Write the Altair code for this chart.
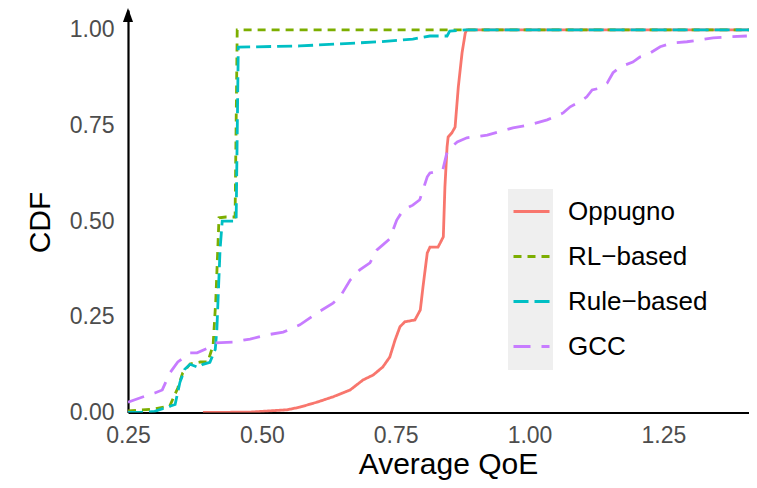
import altair as alt
import pandas as pd

# ---- data ----
series_names = ["Oppugno", "RL\u2212based", "Rule\u2212based", "GCC"]
series_colors = ["#F8766D", "#7CAE00", "#00BFC4", "#C77CFF"]
series_dashes = [[1, 0], [8, 6], [15, 6], [17, 11]]

opp_x = [0.390, 0.478, 0.547, 0.571, 0.603, 0.633, 0.665, 0.689, 0.708, 0.726, 0.739, 0.749, 0.758,
         0.767, 0.786, 0.796, 0.801, 0.809, 0.814, 0.829, 0.839, 0.842, 0.846, 0.848, 0.855, 0.861,
         0.867, 0.874, 0.880, 0.883, 1.43]
opp_y = [0.000, 0.001, 0.007, 0.014, 0.027, 0.041, 0.059, 0.085, 0.098, 0.119, 0.145, 0.190, 0.224,
         0.237, 0.242, 0.268, 0.328, 0.417, 0.432, 0.432, 0.459, 0.590, 0.694, 0.720, 0.731, 0.746,
         0.851, 0.940, 0.992, 1.000, 1.000]

rl_x = [0.250, 0.297, 0.328, 0.343, 0.352, 0.366, 0.385, 0.399, 0.409, 0.414, 0.420, 0.433, 0.450,
        0.454, 1.43]
rl_y = [0.004, 0.009, 0.017, 0.064, 0.103, 0.127, 0.132, 0.132, 0.176, 0.294, 0.509, 0.511, 0.511,
        1.000, 1.000]

rule_x = [0.250, 0.272, 0.300, 0.338, 0.347, 0.356, 0.366, 0.381, 0.390, 0.403, 0.413, 0.416, 0.422,
          0.426, 0.435, 0.452, 0.456, 0.571, 0.721, 0.782, 0.814, 0.846, 0.851, 0.880, 1.43]
rule_y = [0.000, 0.000, 0.003, 0.021, 0.079, 0.113, 0.126, 0.118, 0.126, 0.131, 0.165, 0.217, 0.427,
          0.500, 0.500, 0.500, 0.955, 0.958, 0.969, 0.976, 0.984, 0.984, 0.997, 1.000, 1.000]

gcc_x = [0.250, 0.272, 0.300, 0.314, 0.328, 0.343, 0.366, 0.379, 0.403, 0.413, 0.446, 0.478, 0.510,
         0.540, 0.571, 0.603, 0.633, 0.646, 0.665, 0.683, 0.702, 0.715, 0.726, 0.739, 0.752, 0.764,
         0.782, 0.795, 0.809, 0.814, 0.838, 0.846, 0.852, 0.865, 0.883, 0.921, 0.969, 1.001, 1.033,
         1.063, 1.076, 1.094, 1.107, 1.117, 1.132, 1.145, 1.156, 1.169, 1.193, 1.206, 1.220, 1.244,
         1.268, 1.294, 1.343, 1.375, 1.406]
gcc_y = [0.027, 0.038, 0.051, 0.059, 0.103, 0.132, 0.156, 0.156, 0.171, 0.182, 0.184, 0.192, 0.203,
         0.210, 0.229, 0.260, 0.286, 0.302, 0.346, 0.373, 0.391, 0.425, 0.438, 0.454, 0.503, 0.529,
         0.542, 0.556, 0.616, 0.626, 0.634, 0.681, 0.691, 0.707, 0.718, 0.725, 0.744, 0.752, 0.765,
         0.783, 0.799, 0.812, 0.825, 0.843, 0.848, 0.861, 0.888, 0.903, 0.916, 0.929, 0.935, 0.956,
         0.966, 0.969, 0.979, 0.982, 0.984]

x_ticks = [0.25, 0.50, 0.75, 1.00, 1.25]
y_ticks = [0.00, 0.25, 0.50, 0.75, 1.00]

frames = []
for name, xs, ys in zip(series_names, [opp_x, rl_x, rule_x, gcc_x], [opp_y, rl_y, rule_y, gcc_y]):
    frames.append(pd.DataFrame({"qoe": xs, "cdf": ys, "series": name, "idx": range(len(xs))}))
df = pd.concat(frames, ignore_index=True)

FONT = "Liberation Sans"
W, H = 621, 402.5

legend_kw = dict(title=None, orient="none", legendX=384, legendY=182,
                 symbolType="stroke", symbolSize=1296, symbolStrokeWidth=3,
                 labelFontSize=26, labelFont=FONT, labelColor="black",
                 labelOffset=17, rowPadding=12, padding=0)

lines = alt.Chart(df).mark_line(strokeWidth=2.8, clip=True).encode(
    x=alt.X("qoe:Q", scale=alt.Scale(domain=[0.25, 1.41], nice=False, zero=False),
            axis=alt.Axis(values=x_ticks, format=".2f", title="Average QoE",
                          titleX=320, titleY=52, titleBaseline="middle",
                          labelPadding=23, labelBaseline="middle", labelFlush=False)),
    y=alt.Y("cdf:Q", scale=alt.Scale(domain=[0, 1.052], nice=False),
            axis=alt.Axis(values=y_ticks, format=".2f", title="CDF",
                          titleX=-88, titleY=212, titleBaseline="middle", titleAngle=270,
                          labelPadding=14, labelBaseline="middle", labelFlush=False)),
    color=alt.Color("series:N", scale=alt.Scale(domain=series_names, range=series_colors),
                    legend=alt.Legend(**legend_kw)),
    strokeDash=alt.StrokeDash("series:N", scale=alt.Scale(domain=series_names, range=series_dashes),
                              legend=alt.Legend(**legend_kw)),
    order="idx:Q",
    detail="series:N",
)

deco = pd.DataFrame({"k": [0]})
key_bg = alt.Chart(deco).mark_rect(color="#efefef").encode(
    x=alt.value(380), x2=alt.value(425), y=alt.value(179), y2=alt.value(360)
)
arrow = alt.Chart(deco).mark_point(
    shape="M0,-1L0.72,1L-0.72,1Z", filled=True, color="black", opacity=1, size=196
).encode(x=alt.value(0), y=alt.value(5))

chart = alt.layer(key_bg, lines, arrow).properties(
    width=W, height=H,
    autosize=alt.AutoSizeParams(type="none"),
    padding={"left": 120, "top": 2, "right": 0, "bottom": 67},
).configure_view(stroke=None).configure_axis(
    grid=False, ticks=False, tickSize=0,
    domainColor="black", domainWidth=2.2,
    labelFont=FONT, labelFontSize=23, labelColor="#4d4d4d",
    titleFont=FONT, titleFontSize=30, titleColor="black", titleFontWeight="normal",
).configure_legend(labelLimit=0)

chart.save("out.html", embed_options={"renderer": "svg", "actions": False})
